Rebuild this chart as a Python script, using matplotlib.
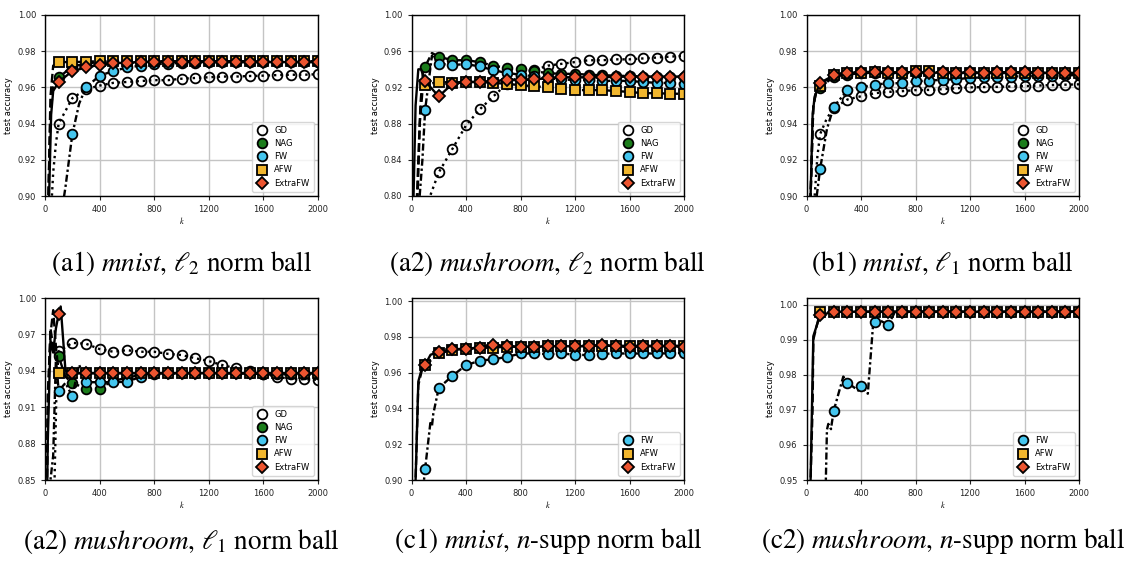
import numpy as np
import matplotlib as mpl
mpl.use("Agg")
import matplotlib.pyplot as plt
from matplotlib.lines import Line2D

mpl.rcParams['mathtext.fontset'] = 'stix'
mpl.rcParams['font.family'] = 'DejaVu Sans'

# iterations where markers are drawn
k_marks = [100, 200, 300, 400, 500, 600, 700, 800, 900, 1000,
           1100, 1200, 1300, 1400, 1500, 1600, 1700, 1800, 1900, 2000]

# ---- (a1) mnist, l2 norm ball ----
a1_gd = [0.940, 0.954, 0.959, 0.961, 0.9625, 0.963, 0.9635, 0.964, 0.964, 0.9648,
         0.9652, 0.9656, 0.966, 0.966, 0.9663, 0.9665, 0.9668, 0.967, 0.967, 0.9673]
a1_gd_k0, a1_gd_y0 = [0, 40, 60, 80], [0.80, 0.885, 0.913, 0.929]
a1_nag = [0.9655, 0.9715, 0.9732, 0.974, 0.9742, 0.9743, 0.9744, 0.9744, 0.9744, 0.9744,
          0.9744, 0.9744, 0.9744, 0.9744, 0.9744, 0.9744, 0.9744, 0.9744, 0.9744, 0.9744]
a1_nag_k0, a1_nag_y0 = [0, 25, 40, 60], [0.70, 0.90, 0.945, 0.960]
a1_fw = [0.880, 0.934, 0.960, 0.9665, 0.969, 0.971, 0.972, 0.9728, 0.9732, 0.9735,
         0.9737, 0.9738, 0.974, 0.974, 0.974, 0.974, 0.974, 0.974, 0.974, 0.974]
a1_fw_k0, a1_fw_y0 = [0, 130, 150, 250], [0.80, 0.895, 0.905, 0.951]
a1_afw = [0.974, 0.974, 0.9742, 0.9745, 0.9744, 0.9744, 0.9744, 0.9744, 0.9744, 0.9744,
          0.9744, 0.9744, 0.9744, 0.9744, 0.9744, 0.9744, 0.9744, 0.9744, 0.9744, 0.9744]
a1_afw_k0, a1_afw_y0 = [0, 25, 40, 60], [0.70, 0.90, 0.955, 0.972]
a1_xfw = [0.963, 0.969, 0.971, 0.9725, 0.9733, 0.9737, 0.974, 0.974, 0.974, 0.974,
          0.974, 0.974, 0.974, 0.974, 0.974, 0.974, 0.974, 0.974, 0.974, 0.974]
a1_xfw_k0, a1_xfw_y0 = [0, 30, 45, 60], [0.70, 0.90, 0.945, 0.958]

# ---- (a2) mushroom, l2 norm ball ----
a2_gd = [0.785, 0.826, 0.852, 0.878, 0.8956, 0.910, 0.924, 0.933, 0.939, 0.944,
         0.946, 0.948, 0.950, 0.950, 0.951, 0.951, 0.952, 0.953, 0.954, 0.955]
a2_gd_k0, a2_gd_y0 = [0], [0.70]
a2_nag = [0.943, 0.954, 0.950, 0.950, 0.948, 0.944, 0.9415, 0.940, 0.938, 0.9357,
          0.935, 0.935, 0.934, 0.9335, 0.933, 0.9325, 0.932, 0.932, 0.932, 0.932]
a2_nag_k0, a2_nag_y0 = [0, 45, 65, 85, 150], [0.60, 0.80, 0.90, 0.940, 0.958]
a2_fw = [0.895, 0.946, 0.945, 0.9455, 0.9434, 0.939, 0.936, 0.934, 0.9324, 0.930,
         0.929, 0.928, 0.928, 0.927, 0.9275, 0.927, 0.926, 0.925, 0.925, 0.924]
a2_fw_k0, a2_fw_y0 = [0, 60, 80, 150], [0.60, 0.80, 0.84, 0.955]
a2_afw = [0.923, 0.926, 0.9254, 0.926, 0.926, 0.925, 0.924, 0.9224, 0.9213, 0.920,
          0.918, 0.917, 0.917, 0.917, 0.916, 0.915, 0.9136, 0.9136, 0.913, 0.913]
a2_afw_k0, a2_afw_y0 = [0, 40, 60, 80], [0.60, 0.80, 0.88, 0.915]
a2_xfw = [0.927, 0.910, 0.924, 0.926, 0.926, 0.927, 0.928, 0.928, 0.929, 0.930,
          0.931, 0.931, 0.931, 0.931, 0.932, 0.932, 0.932, 0.932, 0.932, 0.932]
a2_xfw_k0, a2_xfw_y0 = [0, 15, 30, 50, 70], [0.60, 0.80, 0.90, 0.940, 0.940]

# ---- (b1) mnist, l1 norm ball ----
b1_gd = [0.9342, 0.9485, 0.9533, 0.9551, 0.9568, 0.9575, 0.9579, 0.9585, 0.9586, 0.959,
         0.9595, 0.960, 0.9602, 0.9603, 0.9605, 0.9607, 0.961, 0.9613, 0.9615, 0.9617]
b1_gd_k0, b1_gd_y0 = [0, 60, 80, 150], [0.80, 0.90, 0.922, 0.943]
b1_nag = [0.9598, 0.966, 0.967, 0.968, 0.968, 0.968, 0.968, 0.968, 0.968, 0.968,
          0.968, 0.968, 0.968, 0.968, 0.968, 0.968, 0.968, 0.968, 0.968, 0.968]
b1_nag_k0, b1_nag_y0 = [0, 30, 50, 70], [0.80, 0.90, 0.950, 0.957]
b1_fw = [0.915, 0.9494, 0.9583, 0.960, 0.9615, 0.9623, 0.9623, 0.9634, 0.9638, 0.9642,
         0.9645, 0.9653, 0.9655, 0.9657, 0.966, 0.9662, 0.9663, 0.9665, 0.9667, 0.9668]
b1_fw_k0, b1_fw_y0 = [0, 75, 150], [0.80, 0.90, 0.937]
b1_afw = [0.961, 0.967, 0.968, 0.968, 0.9685, 0.968, 0.968, 0.969, 0.9688, 0.968,
          0.968, 0.968, 0.968, 0.968, 0.968, 0.968, 0.968, 0.968, 0.968, 0.968]
b1_afw_k0, b1_afw_y0 = [0, 30, 50, 70], [0.80, 0.90, 0.950, 0.957]
b1_xfw = [0.9625, 0.9667, 0.9678, 0.9685, 0.9686, 0.9683, 0.9683, 0.9685, 0.968, 0.9683,
          0.968, 0.9683, 0.968, 0.9685, 0.9683, 0.9685, 0.968, 0.968, 0.968, 0.968]
b1_xfw_k0, b1_xfw_y0 = [0, 30, 45, 60], [0.80, 0.90, 0.945, 0.955]

# ---- (a2) mushroom, l1 norm ball ----
d1_gd = [0.956, 0.963, 0.9623, 0.9579, 0.9557, 0.957, 0.9557, 0.9557, 0.954, 0.953,
         0.9504, 0.948, 0.9447, 0.942, 0.9395, 0.9375, 0.935, 0.9333, 0.933, 0.9326]
d1_gd_k0, d1_gd_y0 = [0, 70, 85], [0.70, 0.85, 0.93]
d1_nag = [0.9518, 0.930, 0.9254, 0.9254, 0.932, 0.934, 0.937, 0.938, 0.938, 0.938,
          0.938, 0.938, 0.938, 0.938, 0.938, 0.938, 0.938, 0.938, 0.938, 0.938]
d1_nag_k0, d1_nag_y0 = [0, 20, 40, 60, 80, 150], [0.70, 0.90, 0.975, 0.96, 0.95, 0.935]
d1_fw = [0.9235, 0.919, 0.9306, 0.9306, 0.9306, 0.931, 0.935, 0.937, 0.938, 0.938,
         0.938, 0.938, 0.938, 0.938, 0.938, 0.937, 0.937, 0.937, 0.937, 0.937]
d1_fw_k0, d1_fw_y0 = [0, 40, 60, 80, 150, 250], [0.70, 0.85, 0.87, 0.95, 0.93, 0.945]
d1_afw = [0.938, 0.938, 0.938, 0.938, 0.938, 0.938, 0.938, 0.938, 0.938, 0.938,
          0.938, 0.938, 0.938, 0.938, 0.938, 0.938, 0.938, 0.938, 0.938, 0.938]
d1_afw_k0, d1_afw_y0 = [0, 20, 40, 60, 80], [0.70, 0.92, 0.97, 0.99, 0.96]
d1_xfw = [0.9868, 0.938, 0.938, 0.938, 0.938, 0.938, 0.938, 0.938, 0.938, 0.938,
          0.938, 0.938, 0.938, 0.938, 0.938, 0.938, 0.938, 0.938, 0.938, 0.938]
d1_xfw_k0, d1_xfw_y0 = [0, 20, 40, 60, 80, 115, 150], [0.70, 0.88, 0.965, 0.955, 0.975, 0.993, 0.94]

# ---- (c1) mnist, n-supp norm ball ----
c1_fw = [0.9062, 0.9514, 0.9582, 0.9642, 0.9666, 0.9675, 0.9687, 0.9707, 0.9707, 0.9704,
         0.9707, 0.970, 0.9698, 0.9705, 0.9707, 0.9707, 0.9707, 0.9707, 0.9708, 0.971]
c1_fw_k0, c1_fw_y0 = [0, 85, 140, 150, 160], [0.80, 0.895, 0.933, 0.930, 0.937]
c1_afw = [0.964, 0.9707, 0.9727, 0.9733, 0.974, 0.974, 0.9745, 0.9745, 0.9745, 0.975,
          0.975, 0.975, 0.975, 0.975, 0.975, 0.975, 0.975, 0.975, 0.975, 0.975]
c1_afw_k0, c1_afw_y0 = [0, 30, 50, 75], [0.80, 0.90, 0.953, 0.961]
c1_xfw = [0.9644, 0.9715, 0.973, 0.9734, 0.974, 0.9757, 0.9747, 0.9745, 0.9743, 0.9747,
          0.9747, 0.9747, 0.9747, 0.9755, 0.9747, 0.9743, 0.9747, 0.9747, 0.9747, 0.9745]
c1_xfw_k0, c1_xfw_y0 = [0, 30, 50, 75, 140], [0.80, 0.90, 0.955, 0.962, 0.970]

# ---- (c2) mushroom, n-supp norm ball ----
c2_fw = [0.930, 0.9698, 0.9778, 0.9767, 0.995, 0.9942, 0.998, 0.998, 0.998, 0.998,
         0.998, 0.998, 0.998, 0.998, 0.998, 0.998, 0.998, 0.998, 0.998, 0.998]
c2_fw_k0 = [0, 142, 150, 160, 180, 185, 270, 380, 420, 450, 490, 540, 650]
c2_fw_y0 = [0.90, 0.950, 0.9643, 0.966, 0.9645, 0.966, 0.9795, 0.9755, 0.976, 0.9746, 0.995, 0.9955, 0.998]
c2_afw = [0.9978, 0.998, 0.998, 0.998, 0.998, 0.998, 0.998, 0.998, 0.998, 0.998,
          0.998, 0.998, 0.998, 0.998, 0.998, 0.998, 0.998, 0.998, 0.998, 0.998]
c2_afw_k0, c2_afw_y0 = [0, 30, 45, 50, 75], [0.90, 0.95, 0.971, 0.99, 0.994]
c2_xfw = [0.997, 0.998, 0.998, 0.998, 0.998, 0.998, 0.998, 0.998, 0.998, 0.998,
          0.998, 0.998, 0.998, 0.998, 0.998, 0.998, 0.998, 0.998, 0.998, 0.998]
c2_xfw_k0, c2_xfw_y0 = [0, 30, 50, 75], [0.90, 0.95, 0.991, 0.994]

#styles per method
styles = {
    'GD':      dict(marker='o', mfc='none', ms=7, ls=':'),
    'NAG':     dict(marker='o', mfc='#1b7d1b', ms=7, ls='--'),
    'FW':      dict(marker='o', mfc='#45c6ef', ms=7, ls=(0, (3, 1.2, 1, 1.2))),
    'AFW':     dict(marker='s', mfc='#f1b62e', ms=6.5, ls='--'),
    'ExtraFW': dict(marker='D', mfc='#ec5530', ms=6.5, ls='-'),
}

W, H = 1137., 564.
fig = plt.figure(figsize=(W/100, H/100), dpi=100)

def make_axes(x0, x1, y0, y1):
    return fig.add_axes([x0/W, 1 - y1/H, (x1 - x0)/W, (y1 - y0)/H])

def draw_series(ax, name, marks, k0, y0):
    k = np.array(list(k0) + k_marks, dtype=float)
    y = np.array(list(y0) + list(marks), dtype=float)
    order = np.argsort(k, kind='stable')
    k, y = k[order], y[order]
    idx = [i for i in range(len(k)) if k[i] in k_marks and i == list(k).index(k[i])]
    st = styles[name]
    ax.plot(k, y, color='k', lw=1.7, ls=st['ls'], marker=st['marker'], ms=st['ms'],
            mfc=st['mfc'], mec='k', mew=1.3, markevery=idx)

def setup(ax, ylim, yticks, names):
    ax.set_xlim(0, 2000)
    ax.set_ylim(*ylim)
    ax.set_xticks([0, 400, 800, 1200, 1600, 2000])
    ax.set_yticks(yticks)
    ax.set_yticklabels(['%.2f' % t for t in yticks])
    ax.grid(True, color='#c4c4c4', lw=1)
    ax.set_axisbelow(True)
    ax.tick_params(labelsize=6, length=3, width=0.8, colors='#222222')
    for s in ax.spines.values():
        s.set_linewidth(1.0)
    ax.set_xlabel('$k$', fontsize=6, labelpad=1)
    ax.set_ylabel('test accuracy', fontsize=6, labelpad=3)
    handles = [Line2D([], [], ls='none', marker=styles[n]['marker'], ms=styles[n]['ms'],
                      mfc=styles[n]['mfc'], mec='k', mew=1.3) for n in names]
    ax.legend(handles, names, loc='lower right', fontsize=6, handlelength=1.4,
              borderpad=0.5, labelspacing=0.5)

all5 = ['GD', 'NAG', 'FW', 'AFW', 'ExtraFW']
last3 = ['FW', 'AFW', 'ExtraFW']

panels = [
    ((45, 318, 15, 196), (0.90, 1.00), [0.90, 0.92, 0.94, 0.96, 0.98, 1.00], all5,
     [(a1_gd, a1_gd_k0, a1_gd_y0), (a1_nag, a1_nag_k0, a1_nag_y0), (a1_fw, a1_fw_k0, a1_fw_y0),
      (a1_afw, a1_afw_k0, a1_afw_y0), (a1_xfw, a1_xfw_k0, a1_xfw_y0)],
     r'$\mathrm{(a1)}\ \mathit{mnist}\mathrm{,}\ \ell_2\ \mathrm{norm\ ball}$', 263),
    ((411.5, 684, 15, 196), (0.80, 1.00), [0.80, 0.84, 0.88, 0.92, 0.96, 1.00], all5,
     [(a2_gd, a2_gd_k0, a2_gd_y0), (a2_nag, a2_nag_k0, a2_nag_y0), (a2_fw, a2_fw_k0, a2_fw_y0),
      (a2_afw, a2_afw_k0, a2_afw_y0), (a2_xfw, a2_xfw_k0, a2_xfw_y0)],
     r'$\mathrm{(a2)}\ \mathit{mushroom}\mathrm{,}\ \ell_2\ \mathrm{norm\ ball}$', 263),
    ((806.5, 1079, 15, 196), (0.90, 1.00), [0.90, 0.92, 0.94, 0.96, 0.98, 1.00], all5,
     [(b1_gd, b1_gd_k0, b1_gd_y0), (b1_nag, b1_nag_k0, b1_nag_y0), (b1_fw, b1_fw_k0, b1_fw_y0),
      (b1_afw, b1_afw_k0, b1_afw_y0), (b1_xfw, b1_xfw_k0, b1_xfw_y0)],
     r'$\mathrm{(b1)}\ \mathit{mnist}\mathrm{,}\ \ell_1\ \mathrm{norm\ ball}$', 263),
    ((45, 318, 298, 480), (0.85, 1.00), [0.85, 0.88, 0.91, 0.94, 0.97, 1.00], all5,
     [(d1_gd, d1_gd_k0, d1_gd_y0), (d1_nag, d1_nag_k0, d1_nag_y0), (d1_fw, d1_fw_k0, d1_fw_y0),
      (d1_afw, d1_afw_k0, d1_afw_y0), (d1_xfw, d1_xfw_k0, d1_xfw_y0)],
     r'$\mathrm{(a2)}\ \mathit{mushroom}\mathrm{,}\ \ell_1\ \mathrm{norm\ ball}$', 541),
    ((411.5, 684, 298, 480), (0.90, 1.0017), [0.90, 0.92, 0.94, 0.96, 0.98, 1.00], last3,
     [(c1_fw, c1_fw_k0, c1_fw_y0), (c1_afw, c1_afw_k0, c1_afw_y0), (c1_xfw, c1_xfw_k0, c1_xfw_y0)],
     r'$\mathrm{(c1)}\ \mathit{mnist}\mathrm{,}\ n\mathrm{\text{-}supp\ norm\ ball}$', 541),
    ((806.5, 1079, 298, 480), (0.95, 1.0019), [0.95, 0.96, 0.97, 0.98, 0.99, 1.00], last3,
     [(c2_fw, c2_fw_k0, c2_fw_y0), (c2_afw, c2_afw_k0, c2_afw_y0), (c2_xfw, c2_xfw_k0, c2_xfw_y0)],
     r'$\mathrm{(c2)}\ \mathit{mushroom}\mathrm{,}\ n\mathrm{\text{-}supp\ norm\ ball}$', 541),
]

for box, ylim, yticks, names, series, caption, cy in panels:
    ax = make_axes(*box)
    for name, (marks, k0, y0) in zip(names, series):
        draw_series(ax, name, marks, k0, y0)
    setup(ax, ylim, yticks, names)
    cx = (box[0] + box[1]) / 2 / W
    fig.text(cx, 1 - cy/H, caption, ha='center', va='center', fontsize=19.5)

fig.savefig('out.png', dpi=100, facecolor='white')
